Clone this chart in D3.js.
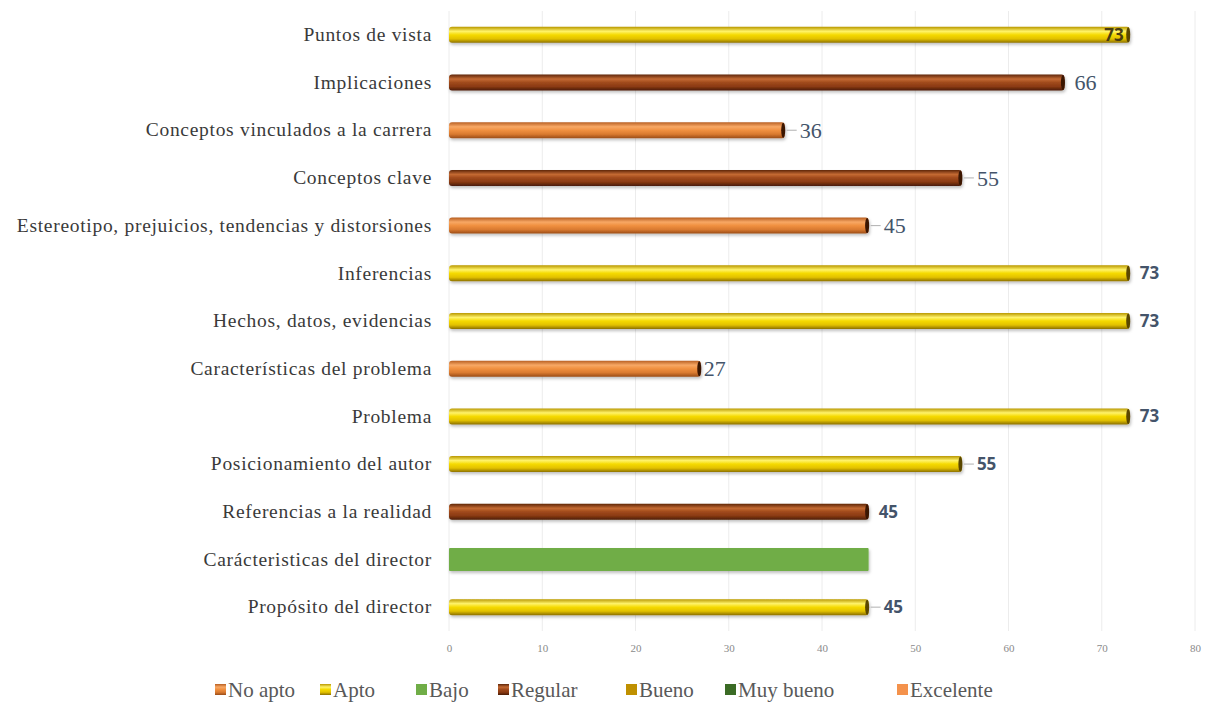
<!DOCTYPE html>
<html>
<head>
<meta charset="utf-8">
<script src="https://cdn.jsdelivr.net/npm/d3@7"></script>
<style>
  body { margin: 0; background: #fff; }
  svg { display: block; }
</style>
</head>
<body>
<div id="chart"></div>
<script>
const WIDTH = 1208;
const HEIGHT = 713;

// categories top to bottom
const categories = [
  'Puntos de vista',
  'Implicaciones',
  'Conceptos vinculados a la carrera',
  'Conceptos clave',
  'Estereotipo, prejuicios, tendencias y distorsiones',
  'Inferencias',
  'Hechos, datos, evidencias',
  'Características del problema',
  'Problema',
  'Posicionamiento del autor',
  'Referencias a la realidad',
  'Carácteristicas del director',
  'Propósito del director'
];
const values = [73, 66, 36, 55, 45, 73, 73, 27, 73, 55, 45, 45, 45];
const seriesOf = ['Apto', 'Regular', 'No apto', 'Regular', 'No apto', 'Apto', 'Apto',
  'No apto', 'Apto', 'Apto', 'Regular', 'Bajo', 'Apto'];
const showLabel = [true, true, true, true, true, true, true, true, true, true, true, false, true];

const seriesNames = ['No apto', 'Apto', 'Bajo', 'Regular', 'Bueno', 'Muy bueno', 'Excelente'];
const xTicks = [0, 10, 20, 30, 40, 50, 60, 70, 80];

// label look per bar (serif vs bold sans, leader line)
const serifLabels = new Set([1, 2, 3, 4, 7]);
const leaderLines = new Set([2, 3, 4, 9, 12]);

const seriesColor = {
  'No apto': '#ee8a3c',
  'Apto': '#f2d400',
  'Bajo': '#70ad47',
  'Regular': '#9a4116',
  'Bueno': '#bf9000',
  'Muy bueno': '#3b6b25',
  'Excelente': '#f4924c'
};
const gradStops = {
  'No apto': ['#b85f22', '#f8a865', '#f09040', '#d97a30', '#9a4c18'],
  'Apto': ['#b99800', '#fff36a', '#f5da00', '#e2c100', '#8c7000'],
  'Regular': ['#5e2509', '#c46a33', '#a04a1c', '#8a3a12', '#4a1c06']
};

const margin = { left: 449, right: 12, top: 11, bottom: 82 };
const serif = 'Liberation Serif, serif';

const svg = d3.select('#chart').append('svg')
  .attr('width', WIDTH)
  .attr('height', HEIGHT);

const defs = svg.append('defs');
Object.entries(gradStops).forEach(([name, stops], i) => {
  const lg = defs.append('linearGradient')
    .attr('id', 'grad' + i)
    .attr('x1', 0).attr('y1', 0).attr('x2', 0).attr('y2', 1);
  const offs = [0, 0.28, 0.5, 0.75, 1];
  stops.forEach((c, j) => lg.append('stop').attr('offset', offs[j]).attr('stop-color', c));
  gradStops[name].id = 'grad' + i;
});
defs.append('filter').attr('id', 'shadow')
  .attr('x', '-5%').attr('y', '-50%').attr('width', '110%').attr('height', '220%')
  .append('feDropShadow')
  .attr('dx', 1).attr('dy', 2).attr('stdDeviation', 1.5)
  .attr('flood-color', '#000').attr('flood-opacity', 0.25);

const x = d3.scaleLinear().domain([0, 80]).range([margin.left, 1195]);
const y = d3.scaleBand().domain(categories).range([margin.top, 631]);

// gridlines
svg.append('g')
  .selectAll('line')
  .data(xTicks)
  .join('line')
  .attr('x1', d => x(d)).attr('x2', d => x(d))
  .attr('y1', margin.top).attr('y2', 631)
  .attr('stroke', '#ececec')
  .attr('stroke-width', 1);

// x axis
const xAxis = svg.append('g')
  .attr('transform', 'translate(0,640)')
  .call(d3.axisBottom(x).tickValues(xTicks).tickSize(0).tickPadding(4));
xAxis.select('.domain').remove();
xAxis.selectAll('text')
  .attr('font-family', serif)
  .attr('font-size', 11)
  .attr('fill', '#8a8a8a');

// category labels
const yAxis = svg.append('g')
  .attr('transform', `translate(${margin.left - 17},0)`)
  .call(d3.axisLeft(y).tickSize(0).tickPadding(0));
yAxis.select('.domain').remove();
yAxis.selectAll('text')
  .attr('font-family', serif)
  .attr('font-size', 19.5)
  .attr('letter-spacing', 0.7)
  .attr('fill', '#3a3a3a');

// bars
const rows = categories.map((c, i) => ({ c, v: values[i], s: seriesOf[i], i }));
const barH = d => (d.s === 'Bajo' ? 23 : 16);
const cy = d => y(d.c) + y.bandwidth() / 2;

const bars = svg.append('g').selectAll('g')
  .data(rows)
  .join('g')
  .attr('filter', 'url(#shadow)');

bars.append('rect')
  .attr('x', x(0))
  .attr('y', d => cy(d) - barH(d) / 2)
  .attr('width', d => x(d.v) - x(0))
  .attr('height', barH)
  .attr('rx', d => (d.s === 'Bajo' ? 1 : 3))
  .attr('fill', d => (gradStops[d.s] ? `url(#${gradStops[d.s].id})` : seriesColor[d.s]));

// dark end cap for cylinder bars
bars.filter(d => gradStops[d.s])
  .append('ellipse')
  .attr('cx', d => x(d.v) - 1.5)
  .attr('cy', cy)
  .attr('rx', 2)
  .attr('ry', d => barH(d) / 2 - 0.5)
  .attr('fill', d => (d.s === 'Apto' ? '#5a4600' : '#3a1404'));

// leader lines
svg.append('g').selectAll('line')
  .data(rows.filter(d => leaderLines.has(d.i)))
  .join('line')
  .attr('x1', d => x(d.v) + 2)
  .attr('x2', d => x(d.v) + 12)
  .attr('y1', cy).attr('y2', cy)
  .attr('stroke', '#b0b0b0')
  .attr('stroke-width', 1);

// value labels
const isSerif = d => serifLabels.has(d.i);
svg.append('g').selectAll('text')
  .data(rows.filter(d => showLabel[d.i]))
  .join('text')
  .attr('x', d => {
    if (d.i === 0) return x(d.v) - 6;
    return x(d.v) + (leaderLines.has(d.i) ? 15 : isSerif(d) ? (d.v < 30 ? 3 : 10) : 10);
  })
  .attr('y', cy)
  .attr('dy', '0.35em')
  .attr('text-anchor', d => (d.i === 0 ? 'end' : 'start'))
  .attr('font-family', d => (isSerif(d) ? serif : 'Open Sans, sans-serif'))
  .attr('font-weight', d => (isSerif(d) ? 'normal' : 'bold'))
  .attr('font-size', d => (isSerif(d) ? 22 : 17))
  .attr('fill', d => (d.i === 0 ? '#4a3d10' : '#44546a'))
  .text(d => d.v);

// legend
const legendX = [215, 320, 416, 498, 626, 725, 897];
const legend = svg.append('g').selectAll('g')
  .data(seriesNames)
  .join('g')
  .attr('transform', (d, i) => `translate(${legendX[i]},690)`);
legend.append('rect')
  .attr('x', 0).attr('y', -6)
  .attr('width', 11).attr('height', 11)
  .attr('fill', d => (gradStops[d] ? `url(#${gradStops[d].id})` : seriesColor[d]));
legend.append('text')
  .attr('x', 13)
  .attr('dy', '0.35em')
  .attr('font-family', serif)
  .attr('font-size', 21)
  .attr('fill', '#595959')
  .text(d => d);
</script>
</body>
</html>
